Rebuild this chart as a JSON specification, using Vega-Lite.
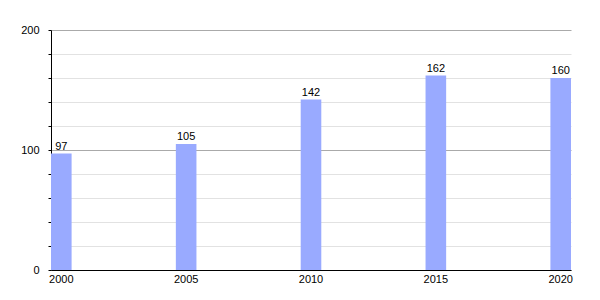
{
  "$schema": "https://vega.github.io/schema/vega-lite/v6.json",
  "width": 520,
  "height": 240,
  "autosize": "none",
  "padding": {"left": 51, "top": 30, "right": 29, "bottom": 30},
  "background": "white",
  "config": {
    "view": {"stroke": null},
    "font": "Liberation Sans"
  },
  "data": {
    "values": [
      {"year": "2000", "value": 97},
      {"year": "2005", "value": 105},
      {"year": "2010", "value": 142},
      {"year": "2015", "value": 162},
      {"year": "2020", "value": 160}
    ]
  },
  "encoding": {
    "x": {
      "field": "year",
      "type": "ordinal",
      "scale": {"paddingInner": 0.835, "paddingOuter": 0},
      "axis": {
        "title": null,
        "labelAngle": 0,
        "ticks": false,
        "domainColor": "black",
        "domainWidth": 1,
        "labelColor": "black",
        "labelFontSize": 11,
        "labelPadding": 3,
        "labelFont": "Liberation Sans"
      }
    },
    "y": {
      "field": "value",
      "type": "quantitative",
      "scale": {"domain": [0, 200], "nice": false},
      "axis": {
        "title": null,
        "values": [0, 20, 40, 60, 80, 100, 120, 140, 160, 180, 200],
        "labelExpr": "datum.value % 100 === 0 ? datum.label : ''",
        "grid": true,
        "gridColor": {"condition": {"test": "datum.value % 100 === 0", "value": "#aaaaaa"}, "value": "#e2e2e2"},
        "gridWidth": 1,
        "domainColor": "black",
        "domainWidth": 1,
        "tickColor": "black",
        "tickSize": 3,
        "labelColor": "black",
        "labelFontSize": 11,
        "labelPadding": 9,
        "labelFont": "Liberation Sans"
      }
    }
  },
  "layer": [
    {
      "mark": {"type": "bar", "color": "#99aaff"}
    },
    {
      "mark": {"type": "text", "baseline": "alphabetic", "dy": -4, "fontSize": 11, "color": "black", "font": "Liberation Sans"},
      "encoding": {"text": {"field": "value", "type": "quantitative"}}
    }
  ]
}
